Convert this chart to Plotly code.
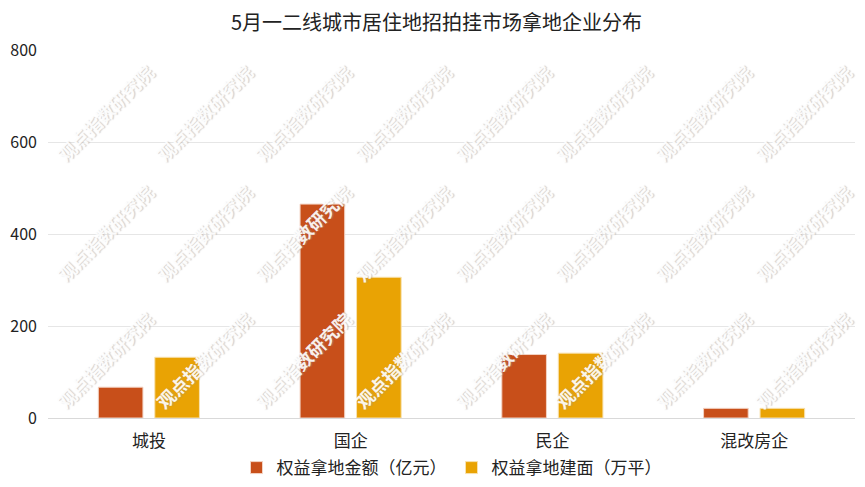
import plotly.graph_objects as go

categories = ["城投", "国企", "民企", "混改房企"]
amount = [67, 465, 138, 21]
area = [132, 306, 141, 21]
series_names = ["权益拿地金额（亿元）", "权益拿地建面（万平）"]
y_ticks = [0, 200, 400, 600, 800]
watermark = "观点指数研究院"

font = "Noto Sans CJK SC"

fig = go.Figure()
fig.add_trace(go.Bar(x=categories, y=amount, name=series_names[0],
                     marker=dict(color="#C84F1A", line=dict(color="#F3D3C4", width=1))))
fig.add_trace(go.Bar(x=categories, y=area, name=series_names[1],
                     marker=dict(color="#E9A304", line=dict(color="#F8E2B0", width=1))))

# plot area in page pixels: x 48..855, y 50..418
annotations = []
for px in [105, 204, 303, 403, 503, 603, 703, 803]:
    for py in [113, 233, 360]:
        annotations.append(dict(
            text=watermark, xref="paper", yref="paper", xanchor="center", yanchor="middle",
            x=(px - 48) / 807, y=(418 - py) / 368, showarrow=False, textangle=-45,
            font=dict(family=font, size=18, color="rgba(255,255,255,0.92)", weight="bold",
                      shadow="1px 1px 1px rgba(150,150,150,0.45)"),
        ))

fig.update_layout(
    width=857, height=479,
    margin=dict(l=40, r=10, t=42, b=69, autoexpand=False),
    paper_bgcolor="white", plot_bgcolor="white",
    barmode="group", bargap=0.44, bargroupgap=0.21,
    title=dict(text="5月一二线城市居住地招拍挂市场拿地企业分布", x=0.5, xanchor="center",
               y=0.968, yanchor="middle", font=dict(family=font, size=20, color="#222222")),
    font=dict(family=font, size=16, color="#222222"),
    legend=dict(orientation="h", x=0.5, xanchor="center", y=-0.136, yanchor="middle",
                font=dict(family=font, size=17, color="#222222"), itemwidth=30, traceorder="normal"),
    xaxis=dict(showgrid=False, showline=True, linecolor="#D9D9D9", linewidth=1, automargin=False,
               ticks="", ticklabelstandoff=8, tickfont=dict(family=font, size=17, color="#222222")),
    yaxis=dict(range=[0, 800], tickvals=y_ticks, showgrid=True, gridcolor="#E6E6E6", automargin=False,
               gridwidth=1, zeroline=False, ticks="", ticklen=0, ticklabelstandoff=10,
               tickfont=dict(family=font, size=16, color="#222222")),
    annotations=annotations,
    showlegend=True,
)

fig.write_html("out.html")
